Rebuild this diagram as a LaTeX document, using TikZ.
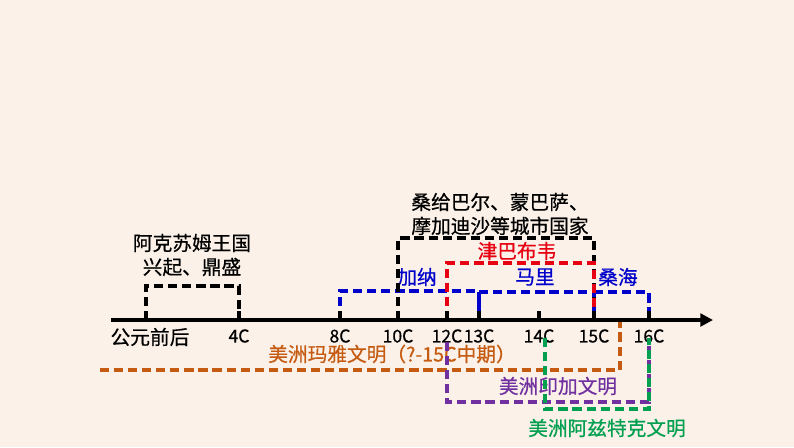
\documentclass[tikz,border=0pt]{standalone}
\usepackage{fontspec}
\setmainfont{Noto Sans CJK SC}[UprightFeatures={FakeBold=0.6}]
\usetikzlibrary{arrows.meta}
\definecolor{bgcol}{RGB}{251,241,232}
\definecolor{mayacol}{RGB}{197,90,17}
\definecolor{incacol}{RGB}{112,48,160}
\definecolor{aztcol}{RGB}{0,160,80}
\definecolor{westcol}{RGB}{0,0,204}
\definecolor{zimbcol}{RGB}{230,0,18}

\begin{document}
\begin{tikzpicture}[x=0.025cm,y=-0.025cm,
  font=\fontsize{14}{17}\selectfont,
  span/.style={line width=2.2pt,dash pattern=on 6.5pt off 3.5pt},
  ticklab/.style={font=\fontsize{12.5}{14}\selectfont,inner sep=0pt},
  axisline/.style={line width=3.5pt,-{Triangle[length=9pt,width=9pt]}}]
\fill[bgcol] (0,0) rectangle (794,447);
\useasboundingbox (0,0) rectangle (794,447);
% time axis
\coordinate (axisL) at (111,320);
\coordinate (axisR) at (713,320);
\coordinate (c0) at (146,320);
\node[inner sep=0pt] (c0lab) at (150,337) {公元前后};
\foreach \x/\t/\n in {239/4C/c4,340/8C/c8,398/10C/c10,
  447/12C/c12,479/13C/c13,539/14C/c14,594/15C/c15,649/16C/c16}{
  \coordinate (\n) at (\x,320);
  \node[ticklab] (\n lab) at (\x,336) {\t};
}
% texts
\node[align=center] (aksum) at (192,255) {阿克苏姆王国\\兴起、鼎盛};
\node[align=left] (cities) at (500,214) {桑给巴尔、蒙巴萨、\\摩加迪沙等城市国家};
\node[zimbcol] (zimb) at (517,251) {津巴布韦};
\node[westcol] (ghana) at (417,277) {加纳};
\node[westcol] (mali) at (535,277) {马里};
\node[westcol] (songhai) at (618,277) {桑海};
\node[mayacol] (maya) at (392,354) {美洲玛雅文明（?-15C中期）};
\node[incacol] (inca) at (558,386) {美洲印加文明};
\node[aztcol] (aztec) at (607,428) {美洲阿兹特克文明};
% Africa
\draw[span] (c0) -- ++(0,-34) -| (c4);
\draw[span,westcol] (c8) -- ++(0,-29) -| (c13);
\draw[span,westcol] (c13) -- ++(0,-28) -| (c15);
\draw[span,westcol] (c15) -- ++(0,-28) -| (c16);
\draw[span] (c10) -- ++(0,-82) -| (c15);
\draw[span,zimbcol] (c12) -- ++(0,-57) -| (c15);
% America
\coordinate (mayaL) at (100,370);
\coordinate (mayaR) at (620,321);
\coordinate (incaL) at (447,342);
\coordinate (incaR) at (649,345);
\coordinate (aztL) at (545,338);
\coordinate (aztR) at (649,338);
\draw[span,mayacol] (mayaL) -| (mayaR);
\draw[span,incacol] (incaL) -- ++(0,60) -| (incaR);
\draw[span,aztcol] (aztL) -- ++(0,71) -| (aztR);
% axis on top
\draw[axisline] (axisL) -- (axisR);
\foreach \n in {c0,c4,c8,c10,c12,c13,c14,c15,c16}
  \draw[line width=2.2pt] (\n) -- ++(0,-9);
\end{tikzpicture}
\end{document}
